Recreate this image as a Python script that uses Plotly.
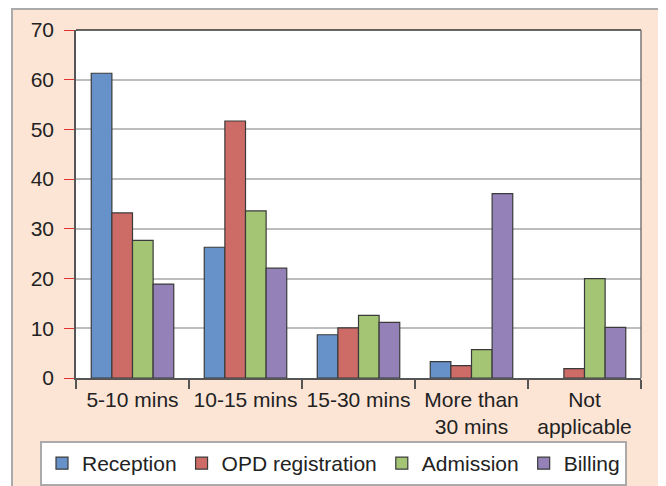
import plotly.graph_objects as go

categories = ["5-10 mins", "10-15 mins", "15-30 mins", "More than<br>30 mins", "Not<br>applicable"]
series_names = ["Reception", "OPD registration", "Admission", "Billing"]
reception = [61.3, 26.3, 8.7, 3.3, 0]
opd_registration = [33.2, 51.7, 10.1, 2.5, 1.9]
admission = [27.7, 33.6, 12.6, 5.7, 20.0]
billing = [18.9, 22.1, 11.2, 37.1, 10.2]
y_ticks = [0, 10, 20, 30, 40, 50, 60, 70]

colors = ["#6792C9", "#CD6B66", "#A4C574", "#9381B8"]
values = [reception, opd_registration, admission, billing]

FONT = "Liberation Sans, Arial, sans-serif"
FS = 21

fig = go.Figure()
for name, vals, col in zip(series_names, values, colors):
    fig.add_trace(go.Bar(
        x=categories, y=vals, name=name,
        marker=dict(color=col,
                    line=dict(color="#3A3A3A",
                              width=[1.2 if v > 0 else 0 for v in vals])),
    ))

# page has an 8px body margin; figure is sized/offset accordingly
OFF = 8
W, H = 666 - OFF, 486 - OFF
L, T = 76 - OFF, 30 - OFF
R, B = W - (641 - OFF), H - (378 - OFF)
PW, PH = W - L - R, H - T - B


def px(x):
    return (x - OFF - L) / PW


def py(y):
    return (H - B - (y - OFF)) / PH


fig.update_layout(
    width=W, height=H,
    margin=dict(l=L, r=R, t=T, b=B, pad=0, autoexpand=False),
    paper_bgcolor="white",
    plot_bgcolor="white",
    barmode="group",
    bargap=0.27,
    bargroupgap=0,
    font=dict(family=FONT, size=FS, color="#222222"),
    showlegend=True,
    legend=dict(
        orientation="h",
        x=px(40), xanchor="left",
        y=py(441), yanchor="top",
        bgcolor="white",
        bordercolor="#AAAAAA", borderwidth=2,
        font=dict(family=FONT, size=FS, color="#222222"),
        traceorder="normal",
    ),
    shapes=[
        dict(type="rect", xref="paper", yref="paper",
             x0=px(12), x1=px(670),
             y0=py(492), y1=py(9),
             fillcolor="#FDE5D6", line=dict(color="#AAAAAA", width=2),
             layer="below"),
        dict(type="rect", xref="paper", yref="paper",
             x0=0, x1=1, y0=0, y1=1,
             fillcolor="white", line=dict(width=0), layer="below"),
    ],
)

fig.update_xaxes(
    type="category", automargin=False, tickangle=0,
    showline=True, linecolor="#555555", linewidth=1.5,
    ticks="outside", tickson="boundaries", ticklen=9,
    tickcolor="#555555", tickwidth=1.5,
    showgrid=False,
    tickfont=dict(family=FONT, size=FS, color="#222222"),
    ticklabelstandoff=2,
)
fig.update_yaxes(
    range=[0, 70], automargin=False,
    tickvals=y_ticks,
    showline=True, linecolor="#555555", linewidth=1.5,
    ticks="outside", ticklen=10, tickcolor="#E03030", tickwidth=1.2,
    showgrid=True, gridcolor="#BDBDBD", gridwidth=1.5,
    zeroline=False,
    tickfont=dict(family=FONT, size=FS, color="#222222"),
    ticklabelstandoff=6,
)
# plot frame (top and right edges)
fig.add_shape(type="line", xref="paper", yref="paper", x0=0, x1=1, y0=1, y1=1,
              line=dict(color="#333333", width=1.5))
fig.add_shape(type="line", xref="paper", yref="paper", x0=1, x1=1, y0=0, y1=1,
              line=dict(color="#777777", width=1.5))

fig.write_html("out.html")
